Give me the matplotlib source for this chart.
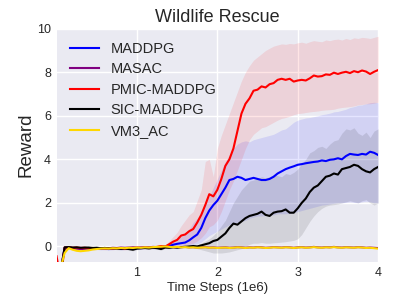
import numpy as np
import matplotlib
matplotlib.use("Agg")
import matplotlib.pyplot as plt

plt.rcParams['font.family'] = ['Liberation Sans', 'DejaVu Sans']

# time steps (1e6), sampled every 0.05
steps = np.linspace(0, 4, 81)

maddpg_mean = [-1.5, -1.2, -0.06, -0.05, -0.07, -0.08, -0.07, -0.09, -0.08, -0.10,
               -0.09, -0.11, -0.10, -0.12, -0.10, -0.09, -0.11, -0.10, -0.08, -0.09,
               -0.07, -0.08, -0.06, -0.05, -0.06, -0.04, -0.02, 0.0, 0.02, 0.08,
               0.12, 0.15, 0.18, 0.28, 0.42, 0.55, 0.85, 1.3, 1.65, 1.9,
               2.1, 2.4, 2.7, 3.05, 3.1, 3.2, 3.15, 3.05, 3.1, 3.15,
               3.1, 3.05, 3.05, 3.1, 3.2, 3.35, 3.45, 3.55, 3.62, 3.68,
               3.75, 3.78, 3.82, 3.85, 3.88, 3.9, 3.95, 3.92, 3.98, 4.0,
               4.05, 4.0, 4.15, 4.25, 4.22, 4.2, 4.25, 4.22, 4.35, 4.3, 4.2]
maddpg_upper = [-1.5, -1.2, -0.01, 0.0, -0.02, -0.03, -0.02, -0.04, -0.03, -0.05,
                -0.04, -0.06, -0.05, -0.07, -0.05, -0.04, -0.06, -0.05, -0.03, -0.04,
                -0.02, -0.03, -0.01, 0.0, -0.01, 0.02, 0.05, 0.08, 0.12, 0.25,
                0.35, 0.45, 0.6, 0.8, 1.1, 1.3, 1.5, 1.9, 2.3, 2.7,
                3.1, 3.5, 3.9, 4.2, 4.5, 4.7, 4.8, 4.85, 4.8, 4.9,
                4.95, 5.0, 5.05, 5.1, 5.15, 5.25, 5.35, 5.4, 5.55, 5.7,
                5.8, 5.85, 5.9, 5.92, 5.96, 6.0, 6.05, 6.08, 6.12, 6.18,
                6.2, 6.25, 6.3, 6.38, 6.42, 6.48, 6.5, 6.55, 6.6, 6.62, 6.6]
maddpg_lower = [-1.5, -1.2, -0.11, -0.10, -0.12, -0.13, -0.12, -0.14, -0.13, -0.15,
                -0.14, -0.16, -0.15, -0.17, -0.15, -0.14, -0.16, -0.15, -0.13, -0.14,
                -0.12, -0.13, -0.11, -0.10, -0.11, -0.09, -0.07, -0.05, -0.05, -0.02,
                0.0, 0.02, 0.03, 0.05, 0.08, 0.12, 0.2, 0.35, 0.5, 0.6,
                0.7, 0.8, 0.9, 1.0, 1.05, 1.1, 1.15, 1.2, 1.3, 1.35,
                1.4, 1.4, 1.42, 1.45, 1.45, 1.5, 1.5, 1.5, 1.52, 1.55,
                1.6, 1.65, 1.7, 1.75, 1.8, 1.85, 1.9, 1.92, 1.95, 1.98,
                2.0, 2.0, 2.02, 2.05, 2.02, 2.0, 2.05, 2.08, 2.05, 2.0, 2.0]

masac_mean = [-1.5, -1.1, -0.1, -0.06, -0.08, -0.1, -0.12, -0.11, -0.09, -0.1,
              -0.08, -0.09, -0.07, -0.08, -0.06, -0.07, -0.05, -0.06, -0.05, -0.04,
              -0.05, -0.04, -0.03, -0.04, -0.02, -0.03, -0.02, -0.01, -0.03, -0.02,
              -0.04, -0.03, -0.02, -0.04, -0.03, -0.05, -0.04, -0.03, -0.05, -0.04,
              -0.06, -0.05, -0.04, -0.06, -0.05, -0.03, -0.04, -0.06, -0.04, -0.05,
              -0.03, -0.04, -0.06, -0.05, -0.03, -0.04, -0.05, -0.03, -0.04, -0.06,
              -0.04, -0.03, -0.05, -0.04, -0.02, -0.04, -0.05, -0.03, -0.04, -0.02,
              -0.04, -0.05, -0.03, -0.04, -0.05, -0.03, -0.04, -0.06, -0.05, -0.06, -0.07]

pmic_mean = [-0.45, -1.5, -0.05, -0.04, -0.06, -0.05, -0.07, -0.06, -0.08, -0.07,
             -0.09, -0.08, -0.10, -0.09, -0.10, -0.08, -0.09, -0.11, -0.08, -0.07,
             -0.06, -0.07, -0.05, -0.06, -0.04, -0.02, 0.02, -0.01, 0.10, 0.22,
             0.30, 0.50, 0.55, 0.70, 0.80, 1.10, 1.45, 1.90, 2.40, 2.30,
             2.60, 3.10, 3.70, 4.00, 4.50, 5.30, 6.10, 6.55, 6.80, 7.15,
             7.20, 7.35, 7.30, 7.45, 7.50, 7.65, 7.70, 7.65, 7.70, 7.57,
             7.62, 7.65, 7.62, 7.72, 7.85, 7.80, 7.82, 7.90, 7.88, 7.98,
             7.92, 7.98, 8.02, 7.96, 8.05, 8.00, 8.08, 8.03, 7.92, 8.02, 8.10]
pmic_upper = [-0.45, -1.5, 0.0, 0.01, -0.01, 0.0, -0.02, -0.01, -0.03, -0.02,
              -0.04, -0.03, -0.05, -0.04, -0.05, -0.03, -0.04, -0.06, -0.03, -0.02,
              -0.01, -0.02, 0.0, -0.01, 0.01, 0.04, 0.08, 0.06, 0.25, 0.45,
              0.65, 0.95, 1.2, 1.45, 1.6, 2.1, 2.6, 3.9, 4.0, 3.2,
              4.5, 5.1, 5.6, 6.1, 6.6, 7.1, 7.6, 8.0, 8.3, 8.55,
              8.7, 8.85, 9.0, 9.1, 9.2, 9.25, 9.3, 9.28, 9.32, 9.3,
              9.35, 9.38, 9.33, 9.4, 9.45, 9.42, 9.4, 9.48, 9.45, 9.5,
              9.52, 9.48, 9.55, 9.5, 9.58, 9.55, 9.6, 9.58, 9.55, 9.6, 9.65]
pmic_lower = [-0.45, -1.5, -0.10, -0.09, -0.11, -0.10, -0.12, -0.11, -0.13, -0.12,
              -0.14, -0.13, -0.15, -0.14, -0.15, -0.13, -0.14, -0.16, -0.13, -0.12,
              -0.11, -0.12, -0.10, -0.11, -0.09, -0.08, -0.05, -0.07, -0.05, 0.0,
              0.0, 0.05, 0.05, 0.1, 0.15, 0.25, 0.4, 0.6, 0.9, 1.0,
              1.2, 1.6, 2.1, 2.6, 3.0, 3.5, 4.0, 4.5, 4.9, 5.15,
              5.3, 5.45, 5.5, 5.6, 5.7, 5.8, 5.88, 5.92, 5.98, 6.05,
              6.1, 6.12, 6.15, 6.18, 6.2, 6.22, 6.25, 6.27, 6.28, 6.3,
              6.35, 6.38, 6.4, 6.42, 6.45, 6.5, 6.52, 6.55, 6.55, 6.58, 6.62]

sic_mean = [-1.5, -1.2, -0.04, -0.03, -0.05, -0.04, -0.06, -0.05, -0.05, -0.07,
            -0.06, -0.08, -0.07, -0.09, -0.08, -0.10, -0.11, -0.09, -0.12, -0.15,
            -0.10, -0.08, -0.07, -0.09, -0.06, -0.08, -0.12, -0.05, -0.06, -0.04,
            -0.05, -0.03, -0.02, 0.0, 0.02, 0.0, 0.05, 0.1, 0.15, 0.25,
            0.3, 0.45, 0.6, 0.85, 1.05, 1.0, 1.15, 1.3, 1.4, 1.45,
            1.5, 1.6, 1.45, 1.4, 1.55, 1.6, 1.62, 1.7, 1.55, 1.55,
            1.75, 2.0, 2.2, 2.5, 2.7, 2.8, 3.0, 3.2, 3.25, 3.35,
            3.3, 3.55, 3.6, 3.65, 3.75, 3.7, 3.55, 3.45, 3.4, 3.55, 3.65]
sic_upper = [-1.5, -1.2, 0.01, 0.02, 0.0, 0.01, -0.01, 0.0, 0.0, -0.02,
             -0.01, -0.03, -0.02, -0.04, -0.03, -0.05, -0.06, -0.04, -0.07, -0.10,
             -0.05, -0.03, -0.02, -0.04, -0.01, -0.03, -0.07, 0.0, -0.01, 0.01,
             0.0, 0.02, 0.03, 0.05, 0.07, 0.08, 0.15, 0.25, 0.35, 0.5,
             0.7, 0.95, 1.2, 1.6, 2.0, 2.3, 2.6, 2.8, 3.0, 3.05,
             3.1, 3.2, 3.15, 3.2, 3.3, 3.25, 3.2, 3.35, 3.3, 3.4,
             3.55, 3.8, 4.0, 4.3, 4.4, 4.55, 4.6, 4.5, 4.7, 4.85,
             4.9, 5.2, 5.4, 5.35, 5.45, 5.2, 5.1, 5.25, 5.0, 5.3, 5.4]
sic_lower = [-1.5, -1.2, -0.09, -0.08, -0.10, -0.09, -0.11, -0.10, -0.10, -0.12,
             -0.11, -0.13, -0.12, -0.14, -0.13, -0.15, -0.16, -0.14, -0.17, -0.20,
             -0.15, -0.13, -0.12, -0.14, -0.11, -0.13, -0.17, -0.10, -0.11, -0.09,
             -0.10, -0.08, -0.07, -0.06, -0.08, -0.1, -0.15, -0.2, -0.25, -0.3,
             -0.3, -0.3, -0.28, -0.25, -0.2, -0.15, -0.1, 0.0, 0.1, 0.15,
             0.15, 0.18, 0.15, 0.15, 0.17, 0.18, 0.2, 0.22, 0.25, 0.28,
             0.35, 0.55, 0.85, 1.15, 1.4, 1.6, 1.75, 1.85, 1.9, 1.92,
             1.95, 2.0, 2.05, 2.1, 2.05, 2.0, 2.1, 2.15, 2.0, 1.9, 2.0]

vm3_mean = [-1.5, -1.0, -0.3, -0.08, -0.15, -0.2, -0.22, -0.2, -0.18, -0.14,
            -0.12, -0.1, -0.09, -0.1, -0.08, -0.09, -0.07, -0.08, -0.06, -0.07,
            -0.05, -0.06, -0.04, -0.05, -0.03, -0.02, -0.01, 0.0, -0.02, -0.03,
            -0.02, -0.04, -0.03, -0.05, -0.04, -0.06, -0.05, -0.04, -0.06, -0.05,
            -0.07, -0.06, -0.05, -0.07, -0.06, -0.04, -0.05, -0.07, -0.05, -0.06,
            -0.04, -0.05, -0.07, -0.06, -0.04, -0.05, -0.06, -0.04, -0.05, -0.07,
            -0.05, -0.04, -0.06, -0.05, -0.03, -0.05, -0.06, -0.04, -0.05, -0.03,
            -0.05, -0.06, -0.04, -0.05, -0.06, -0.04, -0.05, -0.07, -0.06, -0.08, -0.10]

labels = ['MADDPG', 'MASAC', 'PMIC-MADDPG', 'SIC-MADDPG', 'VM3_AC']
colors = ['#0000FF', '#800080', '#FF0000', '#000000', '#FFD700']

fig = plt.figure(figsize=(4.07, 3.05), dpi=100)
ax = fig.add_axes([0.139, 0.142, 0.79, 0.764])
ax.set_facecolor('#EAEAF2')
for s in ax.spines.values():
    s.set_visible(False)
ax.grid(True, color='white', linewidth=1.0)
ax.set_axisbelow(True)

ax.fill_between(steps, maddpg_lower, maddpg_upper, color=colors[0], alpha=0.1, linewidth=0)
ax.fill_between(steps, pmic_lower, pmic_upper, color=colors[2], alpha=0.1, linewidth=0)
ax.fill_between(steps, sic_lower, sic_upper, color=colors[3], alpha=0.1, linewidth=0)

ax.plot(steps, maddpg_mean, color=colors[0], lw=1.5, label=labels[0])
ax.plot(steps, masac_mean, color=colors[1], lw=1.5, label=labels[1])
ax.plot(steps, pmic_mean, color=colors[2], lw=1.5, label=labels[2])
ax.plot(steps, sic_mean, color=colors[3], lw=1.5, label=labels[3])
ax.plot(steps, vm3_mean, color=colors[4], lw=1.5, label=labels[4])

ax.set_xlim(0, 4)
ax.set_ylim(-0.7, 10)
ax.set_xticks([1, 2, 3, 4])
ax.set_yticks([0, 2, 4, 6, 8, 10])
ax.tick_params(length=0, labelsize=9, colors='#262626', pad=4)
ax.set_title('Wildlife Rescue', fontsize=13, color='#262626', pad=5)
ax.set_xlabel('Time Steps (1e6)', fontsize=9.5, color='#262626', labelpad=2)
ax.set_ylabel('Reward', fontsize=13.5, color='#262626', labelpad=2)
leg = ax.legend(loc='upper left', frameon=False, fontsize=10.5, labelspacing=0.45,
                handlelength=2.0)
for t in leg.get_texts():
    t.set_color('#262626')

fig.savefig('out.png', dpi=100)
